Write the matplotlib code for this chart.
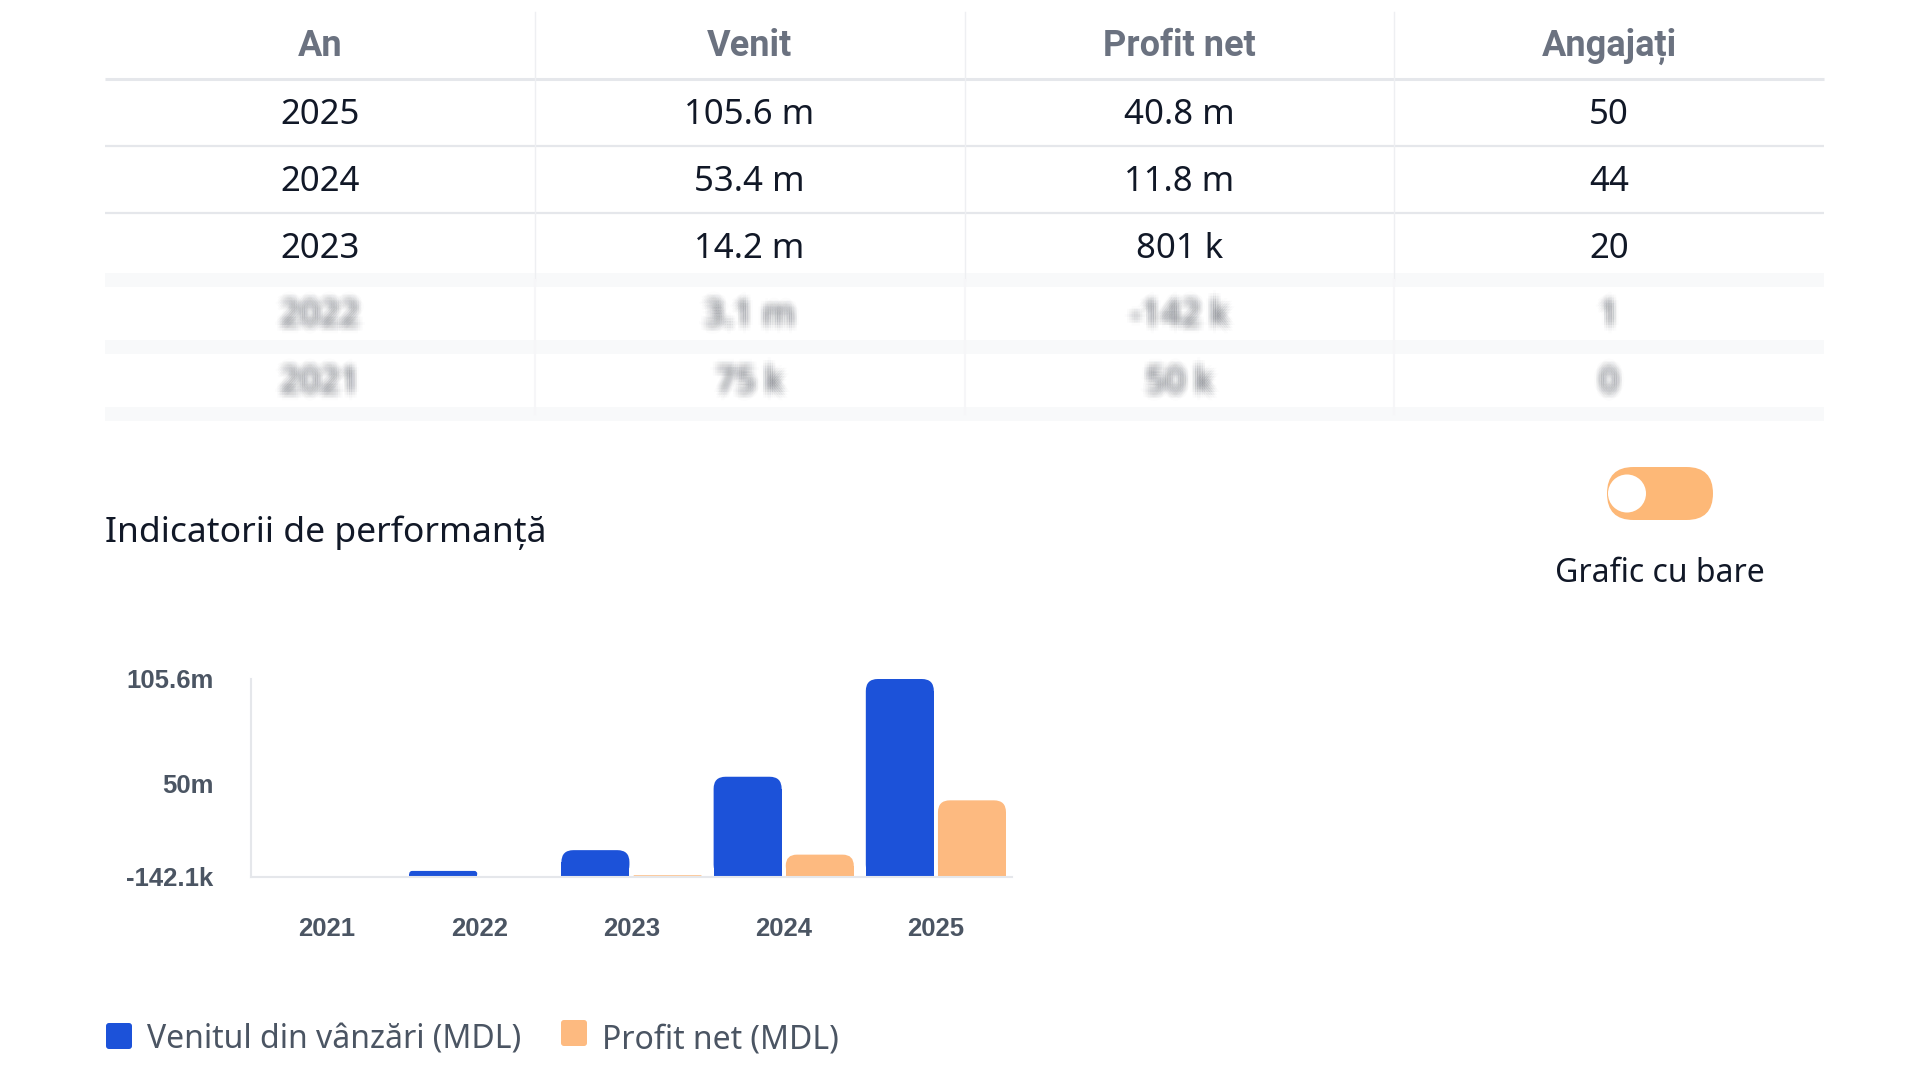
import numpy as np
import matplotlib
matplotlib.use("Agg")
import matplotlib.pyplot as plt
import matplotlib.patheffects as pe
from matplotlib.patches import FancyBboxPatch, Rectangle, Circle

plt.rcParams['font.family'] = ['Noto Sans', 'DejaVu Sans']

# table data (newest first)
table_header = ["An", "Venit", "Profit net", "Angajați"]
table_years = ["2025", "2024", "2023", "2022", "2021"]
table_venit = ["105.6 m", "53.4 m", "14.2 m", "3.1 m", "75 k"]
table_profit = ["40.8 m", "11.8 m", "801 k", "-142 k", "50 k"]
table_angajati = ["50", "44", "20", "1", "0"]
blurred_rows = [3, 4]

# chart data
years = ["2021", "2022", "2023", "2024", "2025"]
venit = [75e3, 3.1e6, 14.2e6, 53.4e6, 105.6e6]
profit = [50e3, -142.1e3, 801e3, 11.8e6, 40.8e6]
y_ticks = [-142.1e3, 50e6, 105.6e6]
y_tick_labels = ["-142.1k", "50m", "105.6m"]

BLUE = "#1c52d9"
ORANGE = "#fdba80"
GRID = "#e5e7eb"
DARK = "#111827"
GRAY = "#6b7280"
TICK = "#4b5563"

fig = plt.figure(figsize=(19.2, 10.8), dpi=100)
fig.patch.set_facecolor("white")

# overlay in pixel coords for the page elements
ui = fig.add_axes([0, 0, 1, 1], zorder=0)
ui.set_xlim(0, 1920)
ui.set_ylim(1080, 0)
ui.axis("off")

# ---- table ----
tbl_left, tbl_right = 105, 1824
col_w = (tbl_right - tbl_left) / 4
header_y = 46
row_h = 67
first_row_y = 115
line_ys = [79 + i * row_h for i in range(6)]

for i, ly in enumerate(line_ys):
    if i < 3:
        ui.plot([tbl_left, tbl_right], [ly, ly], color=GRID, lw=2.2 if i == 0 else 1.6,
                solid_capstyle="butt")
    else:
        # soft, blurred separators under the hidden rows
        ui.plot([tbl_left, tbl_right], [ly, ly], color="#f8f9fa", lw=10,
                solid_capstyle="butt")
for k in range(1, 4):
    xd = tbl_left + k * col_w
    ui.plot([xd, xd], [12, line_ys[3]], color="#eeeff2", lw=1.0)
    ui.plot([xd, xd], [line_ys[3], line_ys[5]], color="#f6f6f8", lw=1.5)

for k, h in enumerate(table_header):
    ui.text(tbl_left + (k + 0.5) * col_w, header_y, h, ha="center", va="center",
            fontsize=26, color=GRAY, fontweight="semibold", family=["Roboto", "DejaVu Sans"])

# blur imitation: one text drawn as many faint shifted copies (offsets in points)
blur_fx = []
for dx in np.linspace(-5, 5, 7):
    for dy in np.linspace(-6, 6, 7):
        d2 = dx * dx / 25 + dy * dy / 36
        if d2 <= 1.0:
            blur_fx.append(pe.SimplePatchShadow(offset=(dx, dy), shadow_rgbFace="#4b505a",
                                                alpha=0.075 * np.exp(-1.6 * d2)))

columns = [table_years, table_venit, table_profit, table_angajati]
for r in range(len(table_years)):
    cy = first_row_y + r * row_h
    for k, col in enumerate(columns):
        cx = tbl_left + (k + 0.5) * col_w
        if r in blurred_rows:
            ui.text(cx, cy, col[r], ha="center", va="center", fontsize=25,
                    color="#555b66", path_effects=blur_fx)
        else:
            ui.text(cx, cy, col[r], ha="center", va="center", fontsize=25, color=DARK)

# ---- title and toggle ----
ui.text(105, 542, "Indicatorii de performanță", ha="left", va="baseline",
        fontsize=25.5, color=DARK)
ui.add_patch(FancyBboxPatch((1607, 467), 106, 53, boxstyle="round,pad=0,rounding_size=26.5",
                            color="#fdb877", lw=0))
ui.add_patch(Circle((1627, 493.5), 19, color="white", lw=0))
ui.text(1660, 573, "Grafic cu bare", ha="center", va="center", fontsize=23,
        color=DARK, fontweight="medium")

# ---- legend ----
legend_items = [("Venitul din vânzări (MDL)", BLUE, 106, 1023),
                ("Profit net (MDL)", ORANGE, 561, 1020)]
for label, color, lx, ly in legend_items:
    ui.add_patch(FancyBboxPatch((lx, ly), 26, 26, boxstyle="round,pad=0,rounding_size=3",
                                color=color, lw=0))
    ui.text(lx + 41, 1040, label, ha="left", va="center", fontsize=23, color=TICK)

# ---- bar chart ----
ax = fig.add_axes([251 / 1920, 1 - 877 / 1080, 761 / 1920, 198 / 1080], zorder=1)
ax.set_facecolor("none")
ax.set_xlim(-0.5, len(years) - 0.5)
ax.set_ylim(y_ticks[0], y_ticks[-1])

x = np.arange(len(years))
bar_w = 0.447
shift = 0.237


def rounded_bar(ax, xc, w, h, color, r_px=12):
    p0 = ax.transData.transform((0, 0))
    px_x = ax.transData.transform((1, 0))[0] - p0[0]
    px_y = ax.transData.transform((0, 1))[1] - p0[1]
    h_px = abs(h) * px_y
    if h <= 0 or h_px < 1:
        ax.add_patch(Rectangle((xc - w / 2, 0), w, h, color=color, lw=0))
        return
    r = min(r_px, h_px / 2, w * px_x / 2)
    rx, ry = r / px_x, r / px_y
    ax.add_patch(FancyBboxPatch((xc - w / 2, 0), w, h,
                                boxstyle=f"round,pad=0,rounding_size={rx}",
                                mutation_aspect=ry / rx, color=color, lw=0))
    ax.add_patch(Rectangle((xc - w / 2, 0), w, h - ry, color=color, lw=0))


for i in range(len(years)):
    rounded_bar(ax, x[i] - shift, bar_w, venit[i], BLUE)
    rounded_bar(ax, x[i] + shift, bar_w, profit[i], ORANGE)

ax.set_xticks(x)
ax.set_xticklabels(years)
ax.set_yticks(y_ticks)
ax.set_yticklabels(y_tick_labels)
ax.tick_params(length=0)
ax.tick_params(axis="x", pad=29)
ax.tick_params(axis="y", pad=27)
for lab in ax.get_xticklabels() + ax.get_yticklabels():
    lab.set_family(["Liberation Sans", "DejaVu Sans"])
    lab.set_fontweight("bold")
    lab.set_fontsize(18.5)
    lab.set_color(TICK)
for s in ["top", "right"]:
    ax.spines[s].set_visible(False)
for s in ["left", "bottom"]:
    ax.spines[s].set_color(GRID)
    ax.spines[s].set_linewidth(1.5)

fig.savefig("out.png", dpi=100, facecolor="white")
